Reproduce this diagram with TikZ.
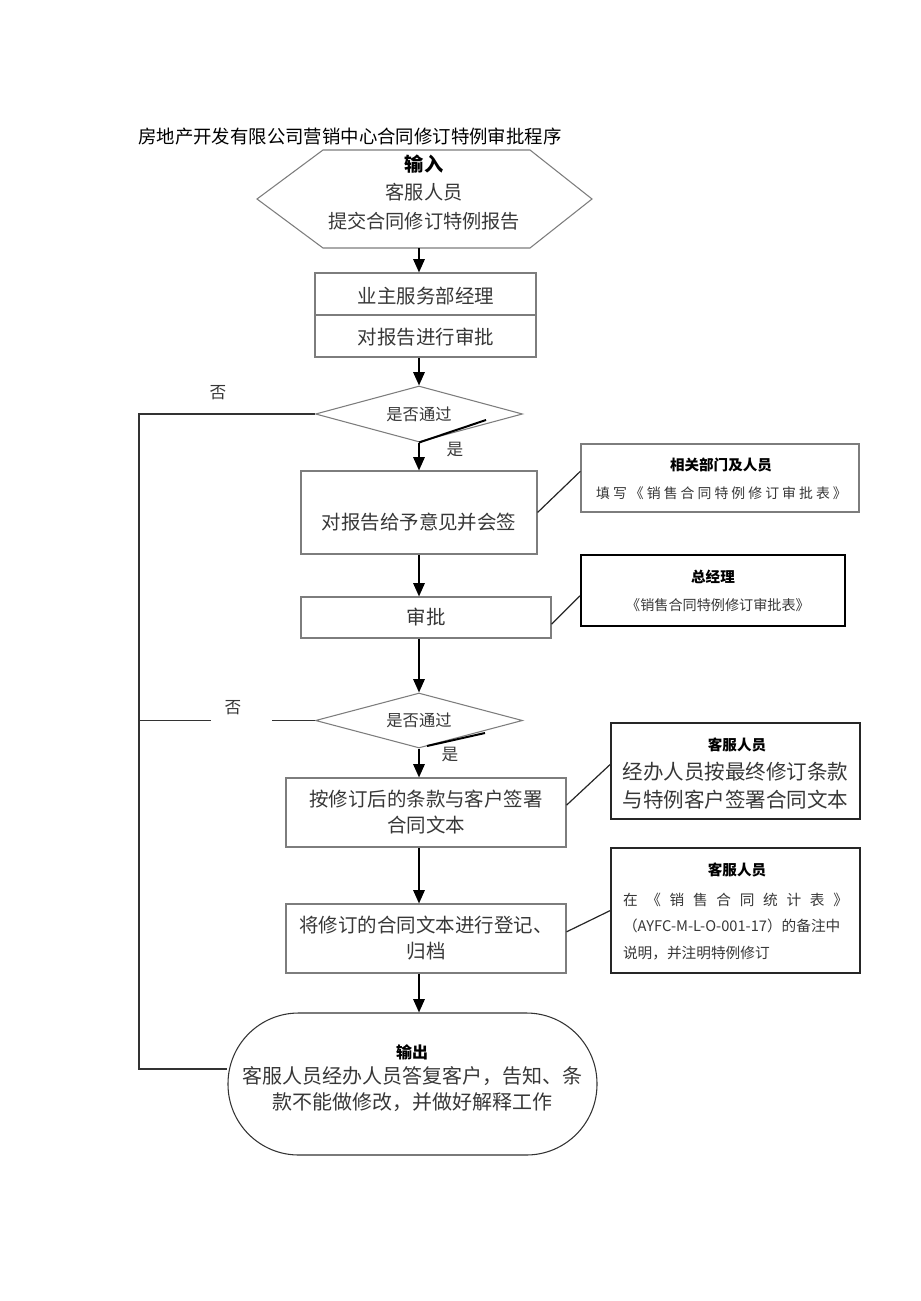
\documentclass[tikz,border=0pt]{standalone}
\usepackage{fontspec}
\setmainfont{Noto Sans CJK SC}
\usetikzlibrary{arrows.meta,shapes.geometric}
\definecolor{boxgray}{RGB}{125,125,125}
\definecolor{txtgray}{RGB}{55,55,55}

\begin{document}
\begin{tikzpicture}[x=0.75pt,y=0.75pt,yscale=-1,xscale=1,
	box/.style={draw=boxgray,line width=0.8pt,inner sep=0pt,align=center,text=txtgray,font=\fontsize{14.6pt}{19.5pt}\selectfont},
	sidebox/.style={draw=black!85,line width=1pt,inner sep=0pt},
	decision/.style={diamond,draw=boxgray,line width=0.8pt,inner sep=0pt,aspect=3.7,text=txtgray,font=\fontsize{12.2pt}{14pt}\selectfont},
	arr/.style={line width=1.5pt,-{Triangle[length=10pt,width=8.5pt]}},
	backline/.style={line width=1.2pt,draw=black!80},
	link/.style={line width=0.9pt,draw=black!85},
	lbl/.style={inner sep=0.75pt,text=txtgray,font=\fontsize{12.5pt}{14pt}\selectfont},
	maintxt/.style={inner sep=0.75pt,align=center,text=txtgray,font=\fontsize{14.6pt}{19.5pt}\selectfont},
	sidehead/.style={inner sep=0.75pt,font=\fontsize{10.9pt}{13pt}\selectfont\bfseries},
	sidetxt/.style={inner sep=0.75pt,align=center,text=txtgray,font=\fontsize{10.6pt}{13pt}\selectfont}]

	\useasboundingbox (0,0) rectangle (920,1301);

	\draw (138,137) node [anchor=west][inner sep=0pt][font=\fontsize{13.8pt}{16pt}\selectfont] (title) {房地产开发有限公司营销中心合同修订特例审批程序};

	\draw [draw=boxgray,line width=0.8pt] (257,199) -- (323,150) -- (530,150) -- (592,199) -- (530,248) -- (323,248) -- cycle ;
	\coordinate (input-s) at (419,248);
	\node [maintxt,font=\fontsize{14.4pt}{21.4pt}\selectfont] (input) at (424,192.5) {\textcolor{black}{\textbf{输入}}\\客服人员\\提交合同修订特例报告};

	\node [box,minimum width=165.75pt,minimum height=63pt] (mgr) at (425.5,315) {};
	\draw [draw=boxgray,line width=0.8pt] (mgr.west) -- (mgr.east);
	\node [maintxt] (mgr-top) at (426,296) {业主服务部经理};
	\node [maintxt] (mgr-bot) at (426,337) {对报告进行审批};

	\node [decision,minimum width=155.25pt,minimum height=42pt] (d1) at (419,414) {是否通过};
	\node [box,minimum width=177pt,minimum height=62.25pt] (opinion) at (419,512.5) {};
	\node [maintxt] (opinion-t) at (419,522) {对报告给予意见并会签};
	\node [box,minimum width=187.5pt,minimum height=30.75pt] (approve) at (426,617.5) {审批};
	\node [decision,minimum width=155.25pt,minimum height=41.25pt] (d2) at (419,720.5) {是否通过};
	\node [box,minimum width=210pt,minimum height=51.75pt] (sign) at (426,812.5) {按修订后的条款与客户签署\\合同文本};
	\node [box,minimum width=210pt,minimum height=51.75pt] (file) at (426,938.5) {将修订的合同文本进行登记、\\归档};
	\node [box,draw=black!80,rounded corners=53pt,minimum width=276.75pt,minimum height=106.5pt] (out) at (412.5,1084) {};
	\node [maintxt,font=\fontsize{15pt}{19pt}\selectfont] (out-t) at (412,1078) {\textcolor{black}{\fontsize{12pt}{19pt}\selectfont\textbf{输出}}\\客服人员经办人员答复客户，告知、条\\款不能做修改，并做好解释工作};

	\node [sidebox,draw=boxgray] (s1) at (720,478) [minimum width=208.5pt,minimum height=51pt] {};
	\node [sidehead] (s1-h) at (721,465) {相关部门及人员};
	\node [sidetxt,font=\fontsize{10.4pt}{13pt}\selectfont\addfontfeature{LetterSpace=22}] (s1-t) at (721.5,493) {填写《销售合同特例修订审批表》};

	\node [sidebox,draw=black,line width=1.5pt] (s2) at (713,590.5) [minimum width=198pt,minimum height=53.25pt] {};
	\node [sidehead] (s2-h) at (713,577) {总经理};
	\node [sidetxt] (s2-t) at (718,605) {《销售合同特例修订审批表》};

	\node [sidebox] (s3) at (735.5,771) [minimum width=186.75pt,minimum height=72pt] {};
	\node [sidehead] (s3-h) at (737,745) {客服人员};
	\node [sidetxt,font=\fontsize{15.4pt}{21pt}\selectfont] (s3-t) at (735.5,786) {经办人员按最终修订条款\\与特例客户签署合同文本};

	\node [sidebox] (s4) at (735.5,910.5) [minimum width=186.75pt,minimum height=93.75pt] {};
	\node [sidehead] (s4-h) at (737,870) {客服人员};
	\node [sidetxt,align=left,text width=168.75pt,font=\fontsize{11pt}{19.9pt}\selectfont] (s4-t) at (735.5,926.5) {在\hfill 《\hfill 销\hfill 售\hfill 合\hfill 同\hfill 统\hfill 计\hfill 表\hfill 》\\（AYFC-M-L-O-001-17）的备注中\\说明，并注明特例修订};

	\draw [arr] (input-s) -- (input-s |- mgr.north);
	\draw [arr] (mgr.south -| d1.north) -- (d1.north);
	\draw [arr] (d1.south) -- (d1.south |- opinion.north);
	\draw [arr] (opinion.south -| d1.south) -- (d1.south |- approve.north);
	\draw [arr] (approve.south -| d2.north) -- (d2.north);
	\draw [arr] (d2.south) -- (d2.south |- sign.north);
	\draw [arr] (sign.south -| d2.south) -- (d2.south |- file.north);
	\draw [arr] (file.south -| d2.south) -- (d2.south |- out.north);

	\draw [line width=1.5pt] (d1.south) -- (486,420);
	\draw [line width=1.5pt] (427,746) -- (485,733);
	\node [lbl] (yes1) at (455,450) {是};
	\node [lbl] (yes2) at (450,755) {是};
	\node [lbl] (no1) at (218,393) {否};
	\node [lbl] (no2) at (233,708) {否};

	\coordinate (back) at (139,1069);
	\draw [backline] (d1.west) -| (back) -- (out.west |- back);
	\draw [backline] (d2.west) -- ([xshift=-32pt]d2.west);
	\draw [backline] (back |- d2.west) -- ([xshift=54pt]back |- d2.west);

	\draw [link] (opinion.east) -- ([yshift=-5pt]s1.west);
	\draw [link] ([yshift=5pt]approve.east) -- ([yshift=4pt]s2.west);
	\draw [link] ([yshift=-5.5pt]sign.east) -- ([yshift=-5pt]s3.west);
	\draw [link] ([yshift=-5pt]file.east) -- (s4.west);
\end{tikzpicture}
\end{document}
